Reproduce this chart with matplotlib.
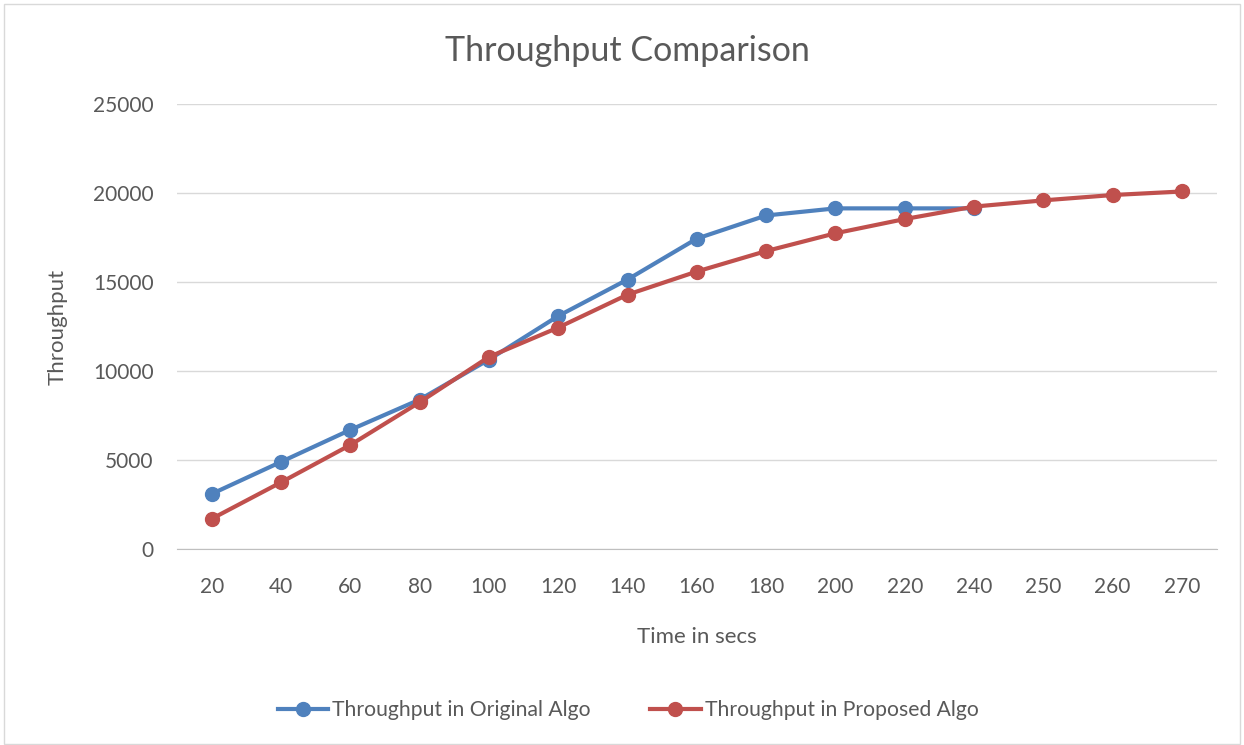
import numpy as np
import matplotlib
matplotlib.use("Agg")
import matplotlib.pyplot as plt
from matplotlib.patches import Rectangle

# data
times = ["20", "40", "60", "80", "100", "120", "140", "160", "180", "200",
         "220", "240", "250", "260", "270"]
original = [3100, 4900, 6700, 8400, 10650, 13100, 15150, 17450, 18750, 19150,
            19150, 19150]
proposed = [1700, 3750, 5850, 8250, 10800, 12450, 14300, 15600, 16750, 17750,
            18550, 19250, 19600, 19900, 20100]
yticks = [0, 5000, 10000, 15000, 20000, 25000]

TXT = "#595959"
plt.rcParams["font.family"] = ["Lato", "DejaVu Sans"]

fig = plt.figure(figsize=(12.44, 7.45), dpi=100)
ax = fig.add_axes([0.1423, 0.263, 0.8357, 0.597])

x = np.arange(len(times))
ax.plot(x[:len(original)], original, color="#4F81BD", lw=3, marker="o", ms=10,
        label="Throughput in Original Algo", zorder=3)
ax.plot(x, proposed, color="#C0504D", lw=3, marker="o", ms=10,
        label="Throughput in Proposed Algo", zorder=4)

ax.set_xlim(-0.5, len(times) - 0.5)
ax.set_ylim(0, 25000)
ax.set_xticks(x)
ax.set_xticklabels(times)
ax.set_yticks(yticks)
ax.grid(axis="y", color="#D9D9D9", lw=1)
ax.set_axisbelow(True)
for s in ["top", "right", "left"]:
    ax.spines[s].set_visible(False)
ax.spines["bottom"].set_color("#BFBFBF")
ax.tick_params(length=0, labelsize=15, colors=TXT)
ax.tick_params(axis="x", pad=20)
ax.tick_params(axis="y", pad=17)

fig.text(0.504, 0.931, "Throughput Comparison", fontsize=24.5, color=TXT,
         ha="center", va="center")
ax.set_xlabel("Time in secs", fontsize=16, color=TXT, labelpad=22)
ax.set_ylabel("Throughput", fontsize=16, color=TXT, labelpad=18)

ax.legend(loc="center", bbox_to_anchor=(0.505, 0.047), bbox_transform=fig.transFigure,
          ncol=2, frameon=False, fontsize=15.2, labelcolor=TXT, handlelength=2.4,
          columnspacing=2.8, handletextpad=0.2)

fig.patches.append(Rectangle((0.003, 0.002), 0.994, 0.993, transform=fig.transFigure,
                             fill=False, edgecolor="#D9D9D9", lw=1))

fig.savefig("out.png", dpi=100)
